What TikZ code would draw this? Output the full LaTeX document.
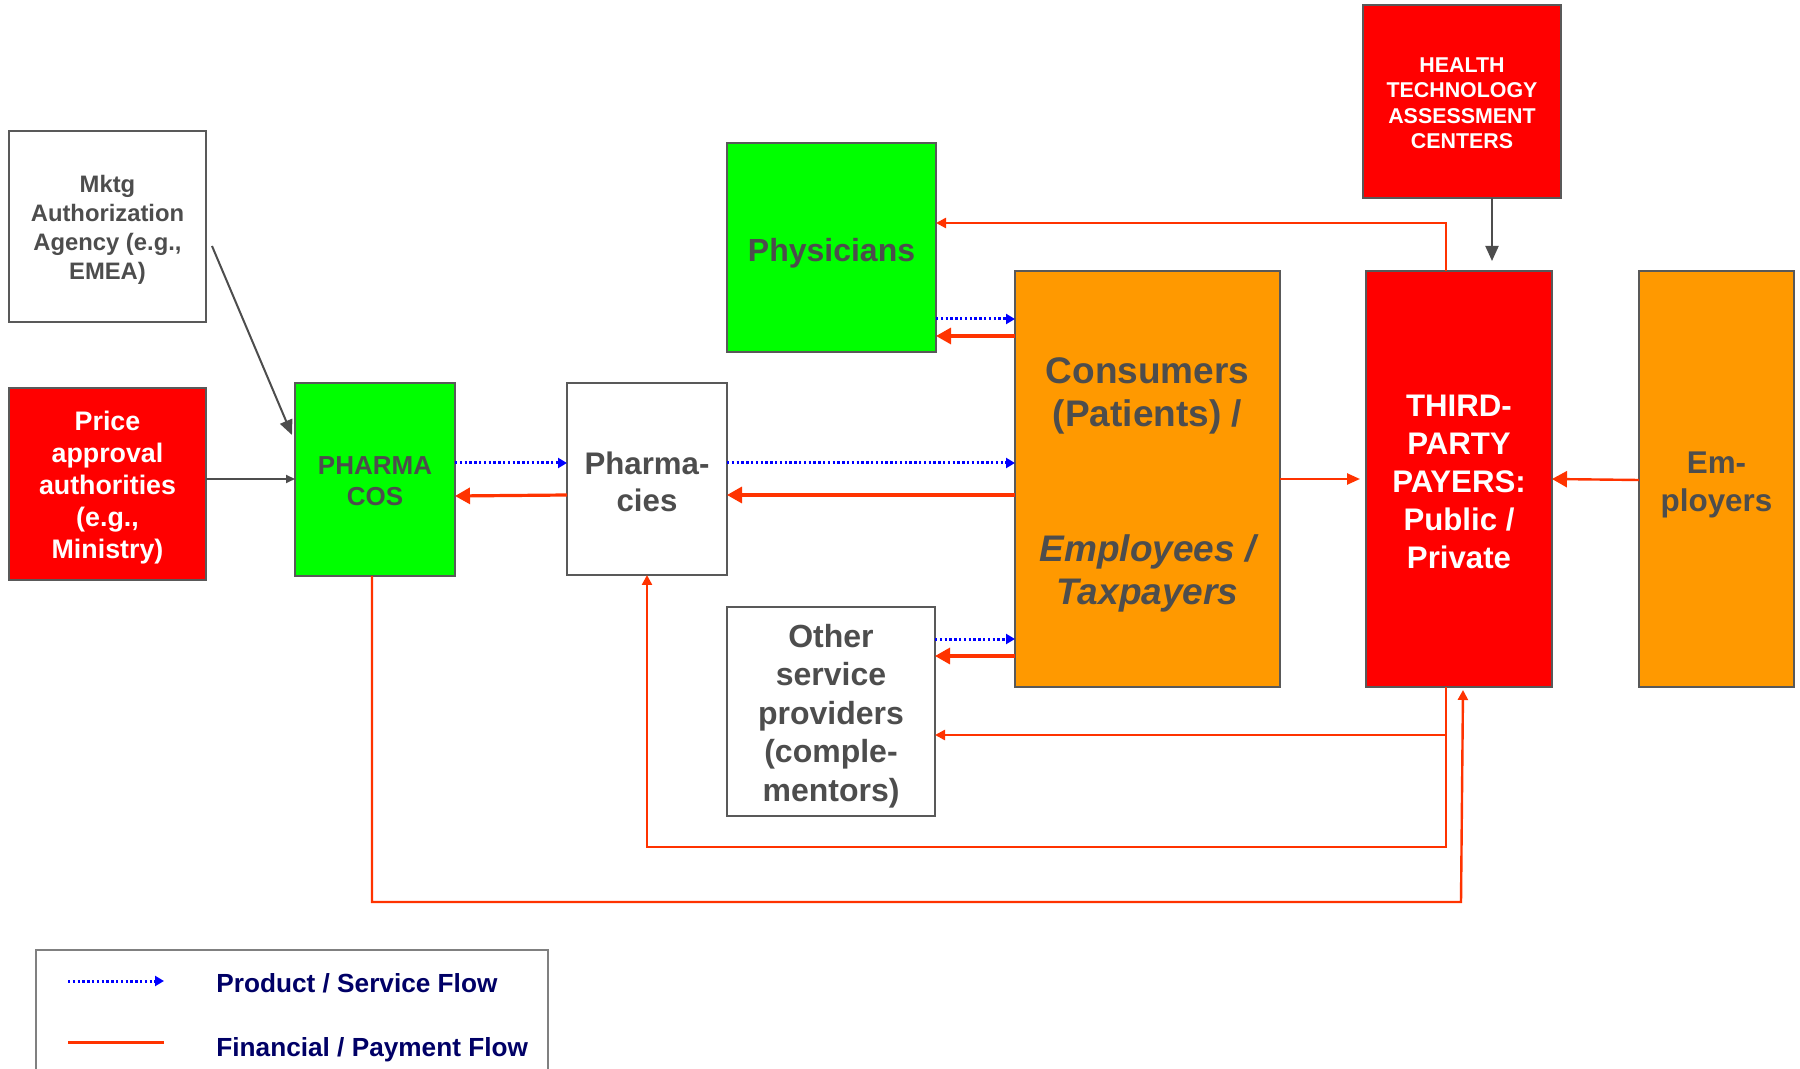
\documentclass[tikz,border=0pt]{standalone}
\usepackage{fontspec}
\setmainfont{Liberation Sans}
\usetikzlibrary{arrows.meta,calc}
\definecolor{boxgray}{HTML}{595959}
\definecolor{txtgray}{HTML}{4D4D4D}
\definecolor{leggray}{HTML}{808080}
\definecolor{finred}{HTML}{FF3300}
\definecolor{prodblue}{HTML}{0000FF}
\definecolor{navy}{HTML}{000066}
\definecolor{ppgreen}{HTML}{00FF00}
\definecolor{pporange}{HTML}{FF9900}
\definecolor{ppred}{HTML}{FF0000}
\newcommand{\fs}[2]{\bfseries\fontsize{#1}{#2}\selectfont}
\begin{document}
\begin{tikzpicture}[x=0.5pt,y=-0.5pt,
  box/.style={draw=boxgray,line width=1.3pt,inner sep=0pt,outer sep=0pt},
  whitebox/.style={box,fill=white},
  greenbox/.style={box,fill=ppgreen},
  orangebox/.style={box,fill=pporange},
  redbox/.style={box,fill=ppred},
  graytext/.style={inner sep=0pt,align=center,text=txtgray},
  whitetext/.style={inner sep=0pt,align=center,text=white},
  fin/.style={draw=finred,line width=1.2pt,-{Triangle[length=5pt,width=5pt]}},
  finbig/.style={draw=finred,line width=1.6pt,-{Triangle[length=7.5pt,width=8pt]}},
  prod/.style={draw=prodblue,line width=1.5pt,dash pattern=on 1.2pt off 1.2pt,-{Triangle[length=4.5pt,width=5pt]}},
  grayarr/.style={draw=txtgray,line width=1pt,-{Triangle[length=7.5pt,width=6.5pt]}},
  grayarrsmall/.style={draw=txtgray,line width=1pt,-{Triangle[length=4.5pt,width=4pt]}},
  legtext/.style={anchor=base west,inner sep=0pt,text=navy,font=\fs{13.1}{15}}
]
\useasboundingbox (0,0) rectangle (1800,1069);

% regulators
\node[whitebox,minimum width=98.5pt,minimum height=95.5pt] (mktg) at (107.5,226.5) {};
\node[graytext,font=\fs{11.9}{14.5}] (mktgT) at ([yshift=-1.7pt]mktg.center)
  {Mktg\\Authorization\\Agency (e.g.,\\EMEA)};
\node[redbox,minimum width=98.5pt,minimum height=96pt] (price) at (107.5,484) {};
\node[whitetext,font=\fs{13.4}{16}] (priceT) at ([yshift=-1.7pt]price.center)
  {Price\\approval\\authorities\\(e.g.,\\Ministry)};

% supply chain
\node[greenbox,minimum width=80pt,minimum height=96.5pt] (pharma) at (375,479.5) {};
\node[graytext,font=\fs{13}{15.5}] (pharmaT) at ([yshift=-0.9pt]pharma.center) {PHARMA\\COS};
\node[whitebox,minimum width=80pt,minimum height=96pt] (pha) at (647,479) {};
\node[graytext,font=\fs{15.6}{18.5}] (phaT) at ([yshift=-1.4pt]pha.center) {Pharma-\\cies};
\node[greenbox,minimum width=104.5pt,minimum height=104.5pt] (phys) at (831.5,247.5) {};
\node[graytext,font=\fs{16}{19}] (physT) at ([yshift=-2.9pt]phys.center) {Physicians};
\node[whitebox,minimum width=104pt,minimum height=104.5pt] (other) at (831,711.5) {};
\node[graytext,font=\fs{16}{19.25}] (otherT) at ([yshift=-2.3pt]other.center)
  {Other\\service\\providers\\(comple-\\mentors)};
\node[orangebox,minimum width=132.5pt,minimum height=208pt] (cons) at (1147.5,479) {};
\node[graytext,font=\fs{18.5}{21.5}] (consT) at ([yshift=-2.9pt]cons.center)
  {Consumers\\(Patients) /\\[46pt]\itshape Employees /\\\itshape Taxpayers};

% payers
\node[redbox,minimum width=99pt,minimum height=96.5pt] (hta) at (1462,101.5) {};
\node[whitetext,font=\fs{10.7}{12.8}] (htaT) at ([yshift=-0.9pt]hta.center)
  {HEALTH\\TECHNOLOGY\\ASSESSMENT\\CENTERS};
\node[redbox,minimum width=93pt,minimum height=208pt] (tpp) at (1459,479) {};
\node[whitetext,font=\fs{15.6}{19}] (tppT) at ([yshift=-1.4pt]tpp.center)
  {THIRD-\\PARTY\\PAYERS:\\Public /\\Private};
\node[orangebox,minimum width=77.5pt,minimum height=208pt] (emp) at (1716.5,479) {};
\node[graytext,font=\fs{15.7}{19}] (empT) at ([yshift=-2.9pt]emp.center) {Em-\\ployers};

% regulatory influence
\draw[grayarr] ([shift={(3pt,-9.75pt)}]mktg.east) -- ([shift={(-1.5pt,22.25pt)}]pharma.west);
\draw[grayarrsmall] ([yshift=2.5pt]price.east) -- ([yshift=0.25pt]pharma.west);
\draw[grayarr] ([xshift=15pt]hta.south) -- ([xshift=16.5pt,yshift=5pt]tpp.north);

% product / service flows
\draw[prod] ([yshift=8.25pt]pharma.east) -- ([yshift=8pt]pha.west);
\draw[prod] ([yshift=8pt]pha.east) -- ([yshift=8pt]cons.west);
\draw[prod] ([yshift=-35.75pt]phys.east) -- ([yshift=-24pt]cons.north west);
\draw[prod] ([yshift=36.25pt]other.east) -- ([yshift=24pt]cons.south west);

% payment flows
\draw[finbig] ([yshift=-8pt]pha.west) -- ([yshift=-8.25pt]pharma.east);
\draw[finbig] ([yshift=-8pt]cons.west) -- ([yshift=-8pt]pha.east);
\draw[finbig] ([yshift=-32.5pt]cons.north west) -- ([yshift=-44.25pt]phys.east);
\draw[finbig] ([yshift=15.5pt]cons.south west) -- ([yshift=27.75pt]other.east);
\draw[finbig,line width=1.2pt] ([yshift=-0.5pt]emp.west) -- (tpp.east);
\draw[draw=finred,line width=1.2pt,-{Triangle[length=6.5pt,width=5.5pt]},shorten >=3pt] (cons.east) -- (tpp.west);

\draw[fin] ([xshift=-6.5pt]tpp.north) |- ([yshift=12.25pt]phys.east);
\draw[fin] ([xshift=-6.5pt]tpp.south) |- ([yshift=-11.75pt]other.east);
\coordinate (busA) at (647,847);
\draw[fin] ([xshift=-6.5pt]tpp.south) |- (busA) -- (pha.south);
\coordinate (busB) at (1461,902);
\draw[fin] ([xshift=-1.5pt]pharma.south) |- (busB) -- ([xshift=2pt,yshift=-1.5pt]tpp.south);

% legend
\draw[leggray,line width=0.7pt] (36,950) rectangle (548,1090);
\coordinate (l1a) at (68,981);
\coordinate (l1b) at (164,981);
\coordinate (l2a) at (68,1042);
\coordinate (l2b) at (164,1042);
\draw[prod] (l1a) -- (l1b);
\draw[draw=finred,line width=1.5pt] (l2a) -- (l2b);
\node[legtext] (leg1) at (216,992) {Product / Service Flow};
\node[legtext] (leg2) at (216,1056) {Financial / Payment Flow};
\end{tikzpicture}
\end{document}
